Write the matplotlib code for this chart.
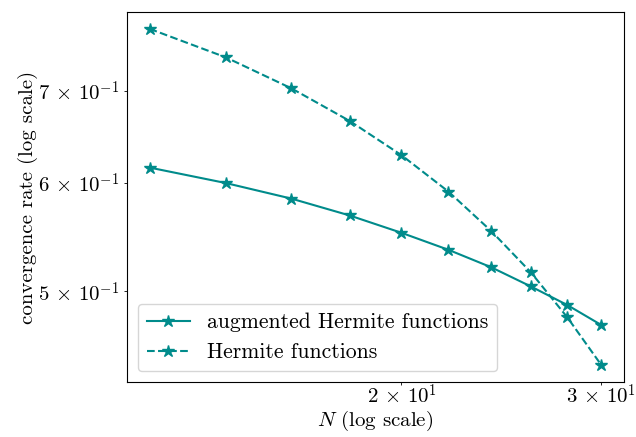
import math
import matplotlib
matplotlib.use("Agg")
import matplotlib.pyplot as plt
from matplotlib.ticker import FuncFormatter, NullFormatter

# convergence rate vs. number of basis functions N
N = [12, 14, 16, 18, 20, 22, 24, 26, 28, 30]
rate_augmented = [0.6153, 0.5996, 0.5841, 0.5679, 0.5516, 0.5361, 0.5206, 0.5042, 0.4887, 0.4726]
rate_hermite = [0.7763, 0.7402, 0.7026, 0.6654, 0.6282, 0.5910, 0.5531, 0.5163, 0.4787, 0.4419]
xtick_vals = [20, 30]
ytick_vals = [0.5, 0.6, 0.7]

plt.rcParams['font.family'] = 'serif'
plt.rcParams['font.serif'] = ['cmr10']
plt.rcParams['mathtext.fontset'] = 'cm'
plt.rcParams['axes.formatter.use_mathtext'] = True
plt.rcParams['font.size'] = 15
plt.rcParams['axes.unicode_minus'] = False

color = '#008b8b'


def sci(v, pos=None):
    # latex style "a \times 10^{b}"
    e = int(math.floor(math.log10(v) + 1e-9))
    m = int(round(v / 10 ** e))
    return r'$%d\,\times\,10^{%d}$' % (m, e)


fig, ax = plt.subplots(figsize=(6.36, 4.37), dpi=100)
fig.subplots_adjust(left=0.1997, right=0.9811, top=0.9725, bottom=0.1259)

ax.plot(N, rate_augmented, '-', marker='*', markersize=9, color=color, label='augmented Hermite functions')
ax.plot(N, rate_hermite, '--', marker='*', markersize=9, color=color, label='Hermite functions')
ax.set_xscale('log')
ax.set_yscale('log')
ax.set_xticks(xtick_vals, minor=True)
ax.set_yticks(ytick_vals, minor=True)
ax.xaxis.set_minor_formatter(FuncFormatter(sci))
ax.yaxis.set_minor_formatter(FuncFormatter(sci))
ax.xaxis.set_major_formatter(NullFormatter())
ax.yaxis.set_major_formatter(NullFormatter())
ax.tick_params(axis='x', which='minor', pad=-1)
ax.set_xlabel(r'$N$ (log scale)', labelpad=1)
ax.set_ylabel('convergence rate (log scale)', labelpad=0)
ax.legend(loc='lower left', fontsize=15.6)

fig.savefig('out.png', dpi=100)
